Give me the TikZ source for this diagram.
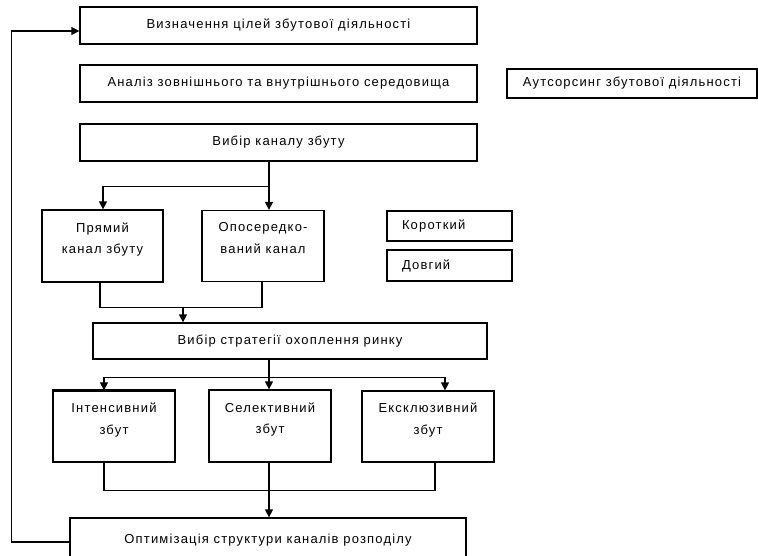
\documentclass[tikz,border=0pt]{standalone}
\usepackage{fontspec}
\setmainfont{Liberation Sans}[LetterSpace=9]
\usetikzlibrary{arrows.meta,calc}
\begin{document}
\begin{tikzpicture}[x=1pt,y=-1pt,
  box/.style={draw,line width=1.3pt,rectangle,inner sep=0pt,align=center,
    font=\fontsize{13}{21.5}\selectfont},
  twoline/.style={box,text depth=16pt},
  sidebox/.style={box,align=left,text width=#1},
  conn/.style={line width=1.3pt},
  arr/.style={conn,-{Triangle[length=8pt,width=8pt]}},
]
\clip (0,0) rectangle (758,555);
\fill[white] (0,0) rectangle (758,555);

% main chain of steps
\node[box,minimum width=397pt,minimum height=37pt] (goals) at (278.5,25.5)
  {Визначення цілей збутової діяльності};
\node[box,minimum width=397pt,minimum height=37pt] (analysis) at (278.5,83.5)
  {Аналіз зовнішнього та внутрішнього середовища};
\node[box,minimum width=250pt,minimum height=29pt] (outsrc) at (632,83.5)
  {Аутсорсинг збутової діяльності};
\node[box,minimum width=397pt,minimum height=37pt] (channel) at (278.5,142.5)
  {Вибір каналу збуту};

% channel types
\node[twoline,minimum width=121pt,minimum height=72pt] (direct) at (102.5,246)
  {Прямий\\канал збуту};
\node[twoline,minimum width=122pt,minimum height=71pt] (indirect) at (263,246)
  {Опосередко-\\ваний канал};
\node[sidebox=95pt,minimum width=125pt,minimum height=30pt] (short) at (449.5,226)
  {Короткий};
\node[sidebox=95pt,minimum width=125pt,minimum height=31pt] (long) at (449.5,265.5)
  {Довгий};

% coverage strategy
\node[box,minimum width=394pt,minimum height=36pt] (strategy) at (290,341)
  {Вибір стратегії охоплення ринку};
\node[twoline,minimum width=122pt,minimum height=71pt] (intensive) at (114,426.5)
  {Інтенсивний\\збут};
\node[twoline,minimum width=122pt,minimum height=72pt] (selective) at (270,426)
  {Селективний\\збут};
\node[twoline,minimum width=132pt,minimum height=71pt] (exclusive) at (428,426.5)
  {Ексклюзивний\\збут};
\draw[line width=2.4pt] (intensive.north west) -- (intensive.north east);

\node[box,minimum width=396pt,minimum height=44pt] (optimize) at (268,540)
  {\raisebox{2pt}{Оптимізація структури каналів розподілу}};

% channel choice branches
\coordinate (cfork) at ([xshift=-9.5pt,yshift=-25pt]channel.south);
\draw[arr] ([xshift=-9.5pt]channel.south) -- ([xshift=6pt]indirect.north);
\draw[arr] (cfork) -| ([xshift=0.5pt]direct.north);

% join of channel types
\draw[conn] ([xshift=-2.5pt]direct.south) |- ([xshift=-1pt,yshift=-25pt]indirect.south)
  -- ([xshift=-1pt]indirect.south);
\draw[arr] ([xshift=80.5pt,yshift=-25pt]direct.south) -- ([xshift=-107pt]strategy.north);

% strategy branches
\coordinate (sfork) at ([xshift=-21pt,yshift=-18pt]strategy.south);
\draw[arr] ([xshift=-21pt]strategy.south) -- ([xshift=-1pt]selective.north);
\draw[arr] (sfork) -| ([xshift=-10pt]intensive.north);
\draw[arr] (sfork) -| ([xshift=17pt]exclusive.north);

% join of strategies
\draw[conn] ([xshift=-10pt]intensive.south) |- ([xshift=7pt,yshift=-28pt]exclusive.south)
  -- ([xshift=7pt]exclusive.south);
\draw[arr] ([xshift=-1pt]selective.south) -- ([xshift=1pt]optimize.north);

% feedback loop
\draw[arr] ([yshift=-2pt]optimize.west) -- ++(-58,0) |- ([yshift=-5.5pt]goals.west);
\end{tikzpicture}
\end{document}
